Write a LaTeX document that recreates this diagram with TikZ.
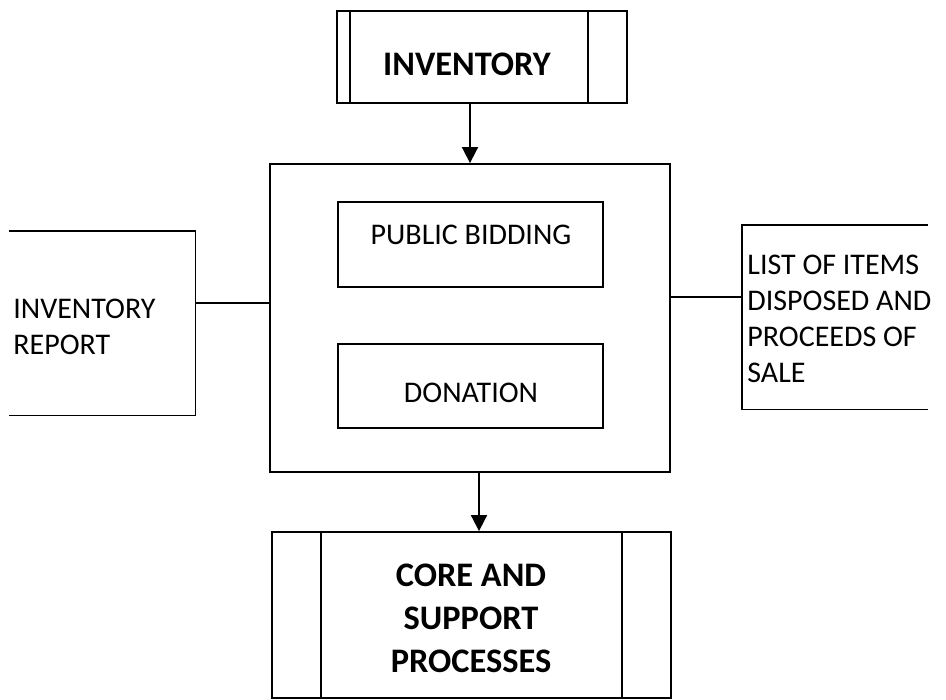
\documentclass[tikz,border=0pt]{standalone}
\usepackage{fontspec}
\setmainfont{Carlito}
\usetikzlibrary{arrows.meta}
\tikzset{
  box/.style={draw,line width=0.9pt,inner sep=0pt},
  open/.style={inner sep=0pt},
  txt/.style={inner sep=0pt,font=\fontsize{15}{18}\selectfont},
  bold/.style={inner sep=0pt,align=center,font=\fontsize{17.2}{21.5}\selectfont\bfseries},
  link/.style={line width=0.9pt},
  flow/.style={line width=0.9pt,-{Triangle[length=8pt,width=8pt]}}
}
\begin{document}
\begin{tikzpicture}[x=0.5pt,y=-0.5pt]
\useasboundingbox (0,0) rectangle (946,700);
% source and target processes
\node[box,minimum width=145pt,minimum height=46pt] (inv) at (482,57) {};
\draw[link] ([xshift=7pt]inv.north west) -- ([xshift=7pt]inv.south west);
\draw[link] ([xshift=-20pt]inv.north east) -- ([xshift=-20pt]inv.south east);
\node[bold] (invtext) at (467,64) {INVENTORY};
\node[box,minimum width=199.5pt,minimum height=83pt] (core) at (471.5,615) {};
\draw[link] ([xshift=25pt]core.north west) -- ([xshift=25pt]core.south west);
\draw[link] ([xshift=-25pt]core.north east) -- ([xshift=-25pt]core.south east);
\node[bold] (coretext) at (471,618) {CORE AND\\SUPPORT\\PROCESSES};
% disposal stage
\node[box,minimum width=200pt,minimum height=154pt] (stage) at (470,318) {};
\node[box,minimum width=132.5pt,minimum height=42.5pt] (pb) at (470.5,244.5) {};
\node[txt] (pbtext) at (471,235) {PUBLIC BIDDING};
\node[box,minimum width=132.5pt,minimum height=42pt] (don) at (470.5,386) {};
\node[txt] (dontext) at (471,393) {DONATION};
% open stores left and right
\node[open,minimum width=93pt,minimum height=92pt] (rep) at (102,323) {};
\draw[link] (rep.north west) -- (rep.north east) -- (rep.south east) -- (rep.south west);
\node[txt,anchor=west,align=left] (reptext) at (13,327) {INVENTORY\\REPORT};
\node[open,minimum width=93pt,minimum height=92pt] (lst) at (835,317) {};
\draw[link] (lst.north east) -- (lst.north west) -- (lst.south west) -- (lst.south east);
\node[txt,anchor=west,align=left] (lsttext) at (747,319) {LIST OF ITEMS\\DISPOSED AND\\PROCEEDS OF\\SALE};
% connectors
\draw[link] ([yshift=10pt]rep.east) -- ([yshift=10pt]rep.east -| stage.west);
\draw[link] ([yshift=10pt]lst.west) -- ([yshift=10pt]lst.west -| stage.east);
\draw[flow] (inv.south -| stage.north) -- (stage.north);
\draw[flow] ([xshift=4.5pt]stage.south) -- ([xshift=4.5pt]stage.south |- core.north);
\end{tikzpicture}
\end{document}
